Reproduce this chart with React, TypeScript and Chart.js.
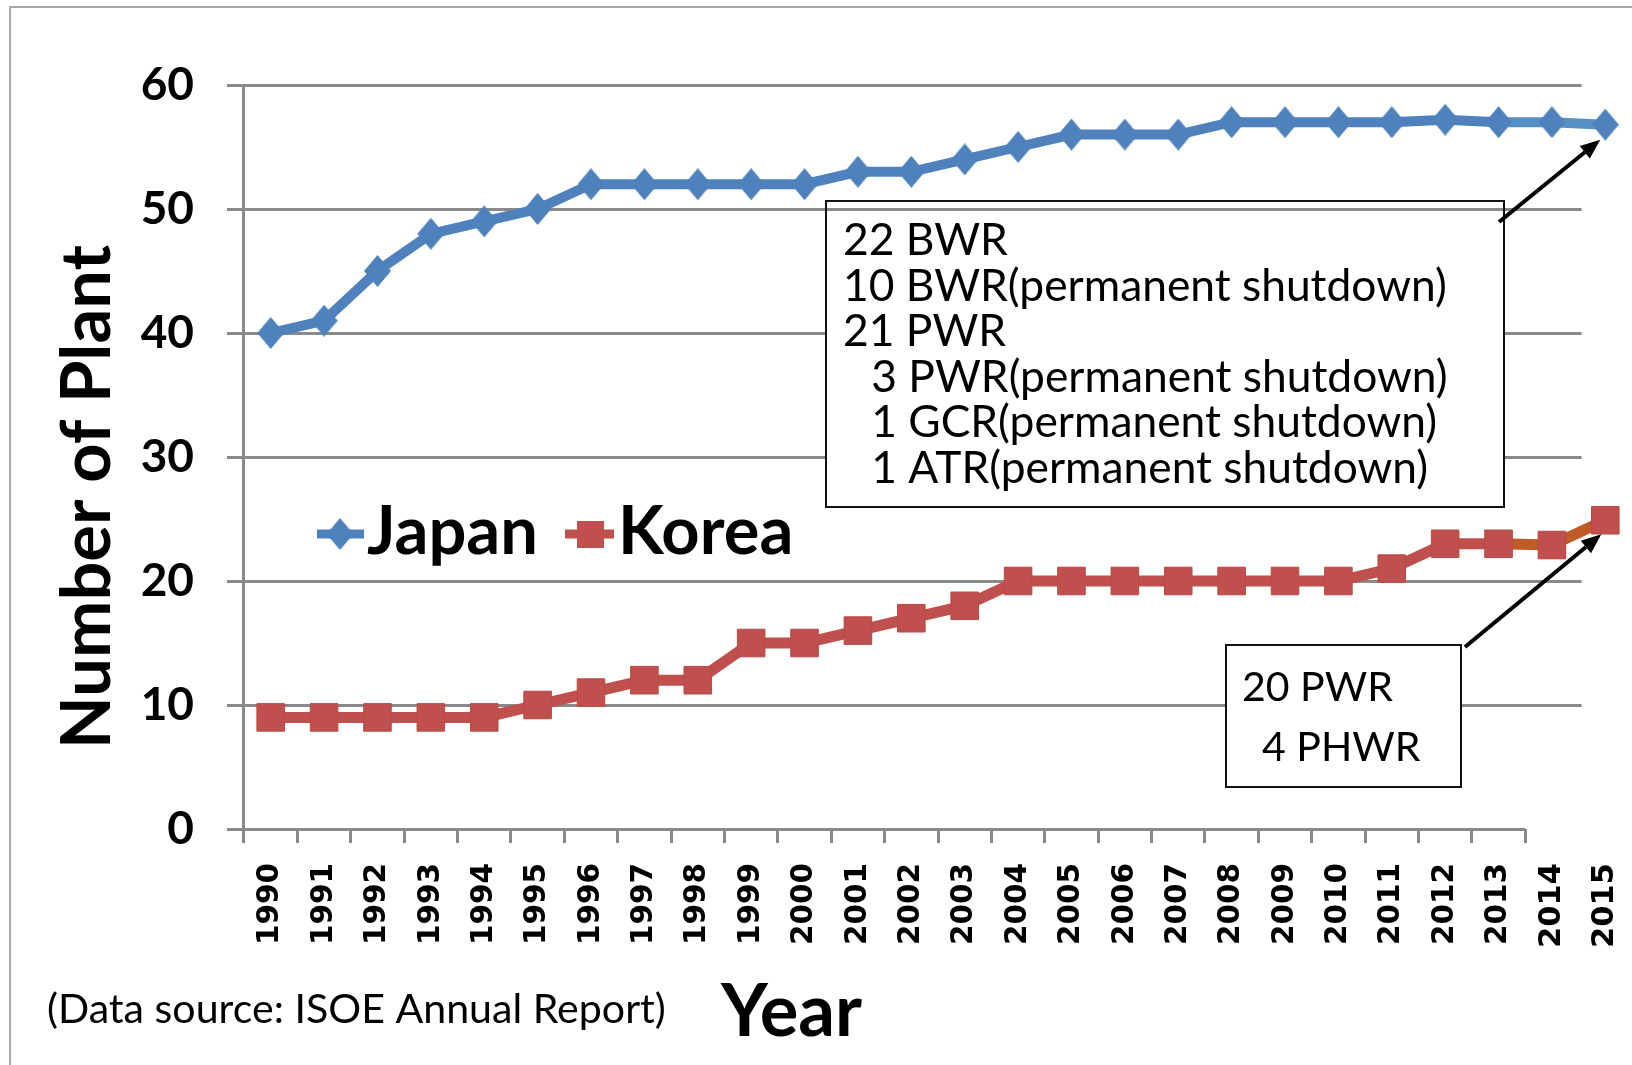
import React, { useEffect, useRef } from 'react';
import { Chart, registerables } from 'chart.js';

Chart.register(...registerables);

const years = ['1990','1991','1992','1993','1994','1995','1996','1997','1998','1999','2000','2001','2002','2003','2004','2005','2006','2007','2008','2009','2010','2011','2012','2013','2014','2015'];
const japan = [40,41,45,48,49,50,52,52,52,52,52,53,53,54,55,56,56,56,57,57,57,57,57.2,57,57,56.8];
const korea = [9,9,9,9,9,10,11,12,12,15,15,16,17,18,20,20,20,20,20,20,20,21,23,23,22.9,24.9];
const yTickValues = [0,10,20,30,40,50,60];
const japanNote = ['22 BWR','10 BWR(permanent shutdown)','21 PWR','3 PWR(permanent shutdown)','1 GCR(permanent shutdown)','1 ATR(permanent shutdown)'];
const japanNoteIndent = [false,false,false,true,true,true];
const koreaNote = ['20 PWR','4 PHWR'];
const koreaNoteIndent = [false,true];
const seriesNames = ['Japan','Korea'];
const yTitle = 'Number of Plant';
const xTitle = 'Year';
const sourceNote = '(Data source: ISOE Annual Report)';

const BLUE = '#4F81BD';
const BLUE2 = '#5690C5';
const RED = '#C0504D';
const ORANGE = '#BE5B26';
const GRID = '#8a8a8a';
const FONT = 'Lato';

function fitSize(ctx: CanvasRenderingContext2D, text: string, target: number, weight: string) {
  ctx.font = `${weight} 100px ${FONT}`;
  const w = ctx.measureText(text).width;
  return (100 * target) / w;
}

function makeDiamond(w: number, h: number, color: string) {
  const c = document.createElement('canvas');
  c.width = w;
  c.height = h;
  const g = c.getContext('2d')!;
  g.fillStyle = color;
  g.beginPath();
  g.moveTo(w / 2, 0);
  g.lineTo(w, h / 2);
  g.lineTo(w / 2, h);
  g.lineTo(0, h / 2);
  g.closePath();
  g.fill();
  return c;
}

function drawArrow(ctx: CanvasRenderingContext2D, x0: number, y0: number, x1: number, y1: number) {
  const ang = Math.atan2(y1 - y0, x1 - x0);
  const hl = 20, hw = 8;
  const bx = x1 - hl * Math.cos(ang), by = y1 - hl * Math.sin(ang);
  ctx.save();
  ctx.strokeStyle = '#000';
  ctx.fillStyle = '#000';
  ctx.lineWidth = 4;
  ctx.beginPath();
  ctx.moveTo(x0, y0);
  ctx.lineTo(bx, by);
  ctx.stroke();
  ctx.beginPath();
  ctx.moveTo(x1, y1);
  ctx.lineTo(bx + hw * Math.sin(ang), by - hw * Math.cos(ang));
  ctx.lineTo(bx - hw * Math.sin(ang), by + hw * Math.cos(ang));
  ctx.closePath();
  ctx.fill();
  ctx.restore();
}

const overlay = {
  id: 'overlay',
  beforeDatasetsDraw(chart: any) {
    const ctx: CanvasRenderingContext2D = chart.ctx;
    const xs = chart.scales.x;
    const ys = chart.scales.y;
    const catW = xs.getPixelForValue(1) - xs.getPixelForValue(0);
    const axisEnd = xs.getPixelForValue(23) + catW / 2;
    const gridEnd = xs.getPixelForValue(24) + catW / 2 + 3;
    ctx.save();
    ctx.strokeStyle = GRID;
    ctx.lineWidth = 3;
    yTickValues.forEach((v) => {
      const y = Math.round(ys.getPixelForValue(v)) + 0.5;
      ctx.beginPath();
      ctx.moveTo(ys.right - 17, y);
      ctx.lineTo(v === 0 ? axisEnd : gridEnd, y);
      ctx.stroke();
    });
    const ax = Math.round(chart.chartArea.left) - 0.5;
    ctx.beginPath();
    ctx.moveTo(ax, ys.getPixelForValue(60));
    ctx.lineTo(ax, ys.getPixelForValue(0));
    ctx.stroke();

    // annotation box 1
    ctx.fillStyle = '#fff';
    ctx.fillRect(826, 213, 678, 294);
    ctx.strokeStyle = '#111';
    ctx.lineWidth = 2;
    ctx.strokeRect(826, 201, 678, 306);
    const s1 = fitSize(ctx, japanNote[1], 604, 'normal');
    ctx.font = `normal ${s1}px ${FONT}`;
    ctx.fillStyle = '#000';
    ctx.textAlign = 'left';
    ctx.textBaseline = 'alphabetic';
    const ind1 = ctx.measureText('00').width * 0.55;
    japanNote.forEach((t, i) => {
      ctx.fillText(t, 843 + (japanNoteIndent[i] ? ind1 : 0), 255 + i * 45.6);
    });

    // annotation box 2
    ctx.fillStyle = '#fff';
    ctx.fillRect(1226, 645, 235, 142);
    ctx.strokeStyle = '#111';
    ctx.strokeRect(1226, 645, 235, 142);
    const s2 = fitSize(ctx, koreaNote[0], 151, 'normal');
    ctx.font = `normal ${s2}px ${FONT}`;
    ctx.fillStyle = '#000';
    koreaNote.forEach((t, i) => {
      ctx.fillText(t, 1242 + (koreaNoteIndent[i] ? 20 : 0), 701 + i * 60);
    });
    ctx.restore();
  },
  afterDatasetsDraw(chart: any) {
    const ctx: CanvasRenderingContext2D = chart.ctx;
    const xs = chart.scales.x;
    const ys = chart.scales.y;
    const last = years.length - 1;
    const jx = xs.getPixelForValue(last), jy = ys.getPixelForValue(japan[last]);
    const kx = xs.getPixelForValue(last), ky = ys.getPixelForValue(korea[last]);
    drawArrow(ctx, 1499, 222, jx - 5, jy + 15);
    drawArrow(ctx, 1465, 647, kx - 4, ky + 14);

    // legend
    ctx.save();
    const ly = 534;
    const ds = chart.data.datasets;
    ctx.strokeStyle = ds[0].borderColor;
    ctx.lineWidth = 9;
    ctx.beginPath(); ctx.moveTo(317, ly); ctx.lineTo(364, ly); ctx.stroke();
    const dia = ds[0].pointStyle;
    if (dia && dia.width) ctx.drawImage(dia, 340 - dia.width / 2, ly - dia.height / 2);
    ctx.strokeStyle = ds[1].borderColor;
    ctx.beginPath(); ctx.moveTo(565, ly); ctx.lineTo(614, ly); ctx.stroke();
    ctx.fillStyle = ds[1].borderColor;
    ctx.fillRect(577, ly - 13, 27, 27);
    const ls = fitSize(ctx, seriesNames[0], 171, 'bold');
    ctx.font = `bold ${ls}px ${FONT}`;
    ctx.fillStyle = '#000';
    ctx.textAlign = 'left';
    ctx.textBaseline = 'alphabetic';
    ctx.fillText(seriesNames[0], 367, 554);
    ctx.fillText(seriesNames[1], 618, 554);
    ctx.restore();
  },
  afterDraw(chart: any) {
    const ctx: CanvasRenderingContext2D = chart.ctx;
    ctx.save();
    ctx.fillStyle = '#000';
    const ts = fitSize(ctx, yTitle, 504, 'bold');
    ctx.font = `bold ${ts}px ${FONT}`;
    ctx.translate(110, 497);
    ctx.rotate(-Math.PI / 2);
    ctx.textAlign = 'center';
    ctx.textBaseline = 'alphabetic';
    ctx.fillText(yTitle, 0, 0);
    ctx.setTransform(1, 0, 0, 1, 0, 0);
    const xsz = fitSize(ctx, xTitle, 141, 'bold');
    ctx.font = `bold ${xsz}px ${FONT}`;
    ctx.textAlign = 'left';
    ctx.fillText(xTitle, 721, 1036);
    const ss = fitSize(ctx, sourceNote, 619, 'normal');
    ctx.font = `normal ${ss}px ${FONT}`;
    ctx.fillText(sourceNote, 47, 1023);
    ctx.restore();
  },
};

export default function App() {
  const ref = useRef<HTMLCanvasElement | null>(null);
  useEffect(() => {
    if (!ref.current) return;
    const diamond = makeDiamond(27, 32, BLUE);
    const chart = new Chart(ref.current, {
      type: 'line',
      data: {
        labels: years,
        datasets: [
          {
            label: seriesNames[0],
            data: japan,
            borderColor: BLUE,
            backgroundColor: BLUE,
            borderWidth: 10,
            pointStyle: diamond,
            pointRadius: 16,
            tension: 0,
            clip: false,
            segment: { borderColor: (c: any) => (c.p0DataIndex >= 23 ? BLUE2 : undefined) },
          },
          {
            label: seriesNames[1],
            data: korea,
            borderColor: RED,
            backgroundColor: RED,
            borderWidth: 11,
            pointStyle: 'rect',
            pointRadius: 19.5,
            pointBackgroundColor: RED,
            pointBorderColor: '#B84A47',
            pointBorderWidth: 1,
            tension: 0,
            clip: false,
            segment: { borderColor: (c: any) => (c.p0DataIndex >= 23 ? ORANGE : undefined) },
          },
        ],
      } as any,
      options: {
        responsive: false,
        animation: false,
        devicePixelRatio: 1,
        events: [],
        layout: { autoPadding: false, padding: { top: 85, right: 0, left: 0, bottom: 0 } },
        plugins: { legend: { display: false }, tooltip: { enabled: false } },
        scales: {
          x: {
            type: 'category',
            offset: true,
            grid: {
              offset: true,
              drawOnChartArea: false,
              drawTicks: true,
              tickLength: 14,
              lineWidth: 3,
              color: (c: any) => (c.index <= 24 ? GRID : 'rgba(0,0,0,0)'),
            },
            border: { display: false },
            ticks: {
              autoSkip: false,
              minRotation: 90,
              maxRotation: 90,
              padding: 20,
              color: '#000',
              font: (c: any) => ({ family: 'DejaVu Sans', weight: 'bold', size: c.index >= 24 ? 30.5 : 29.5 }),
            },
            afterFit: (s: any) => {
              s.height = 1065 - 829;
              s.paddingLeft = 0;
              s.paddingRight = 0;
            },
          },
          y: {
            min: 0,
            max: 60,
            ticks: { stepSize: 10, padding: 50, color: '#000', font: { family: FONT, weight: 'bold', size: 46 } },
            grid: { display: false, drawTicks: false, tickLength: 0 },
            border: { display: false },
            afterFit: (s: any) => {
              s.width = 244;
              s.paddingTop = 0;
              s.paddingBottom = 0;
            },
          },
        },
      } as any,
      plugins: [overlay],
    });
    return () => chart.destroy();
  }, []);

  return (
    <div style={{ position: 'fixed', left: 0, top: 0, width: 1632, height: 1065, background: '#fff', overflow: 'hidden' }}>
      <div style={{ position: 'absolute', left: 9, top: 6, right: -10, bottom: -10, borderLeft: '2px solid #a8a8a8', borderTop: '2px solid #a8a8a8' }} />
      <canvas ref={ref} width={1632} height={1065} style={{ position: 'absolute', left: 0, top: 0, display: 'block' }} />
    </div>
  );
}
